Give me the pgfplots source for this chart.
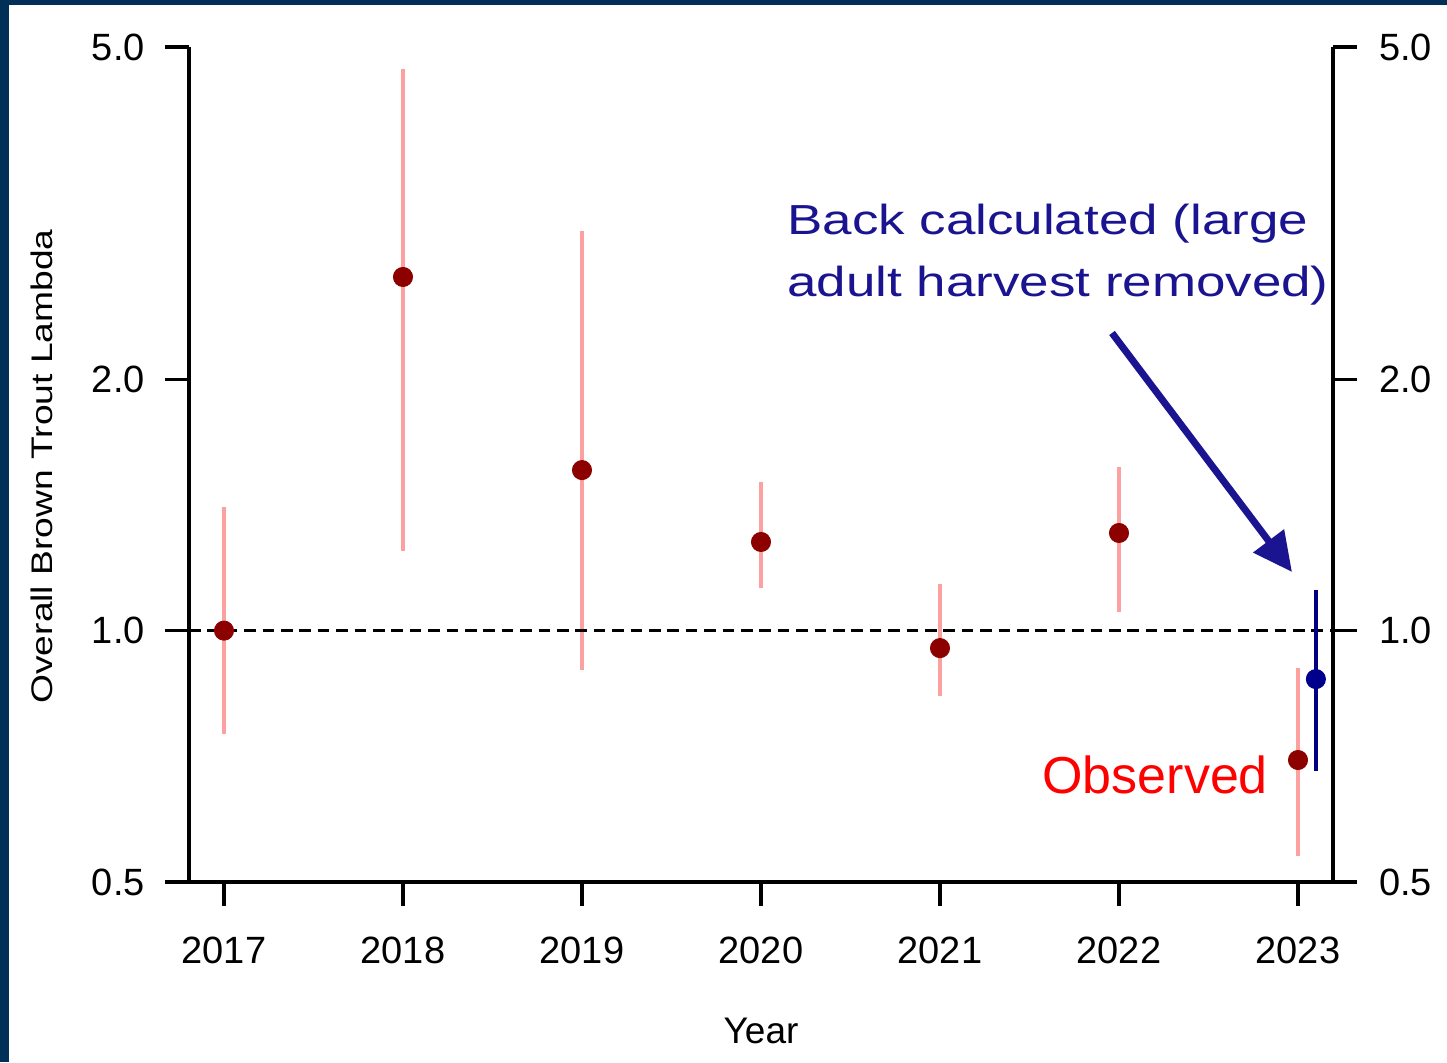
\documentclass[border=0pt]{standalone}
\usepackage{fontspec}
\setmainfont{Liberation Sans}
\usepackage{graphicx}
\usepackage{pgfplots}
\pgfplotsset{compat=1.18}
\usepackage{pgfplotstable}
\usetikzlibrary{arrows.meta}

\definecolor{frame}{RGB}{0,48,87}
\definecolor{obsdot}{RGB}{140,0,0}
\definecolor{obsbar}{RGB}{252,160,160}
\definecolor{backdot}{RGB}{0,0,140}
\definecolor{backbar}{RGB}{0,0,128}
\definecolor{note}{RGB}{26,20,144}
\definecolor{obsred}{RGB}{255,0,0}

% annual lambda estimates with 95% interval
\pgfplotstableread{
year lam   lo    hi
2017 1.000 0.753 1.406
2018 2.652 1.246 4.710
2019 1.557 0.897 3.010
2020 1.277 1.125 1.507
2021 0.953 0.835 1.137
2022 1.309 1.053 1.570
2023 0.700 0.537 0.902
}\observed

% 2023 estimate with the large adult harvest added back
\pgfplotstableread{
year   lam   lo    hi
2023.1 0.875 0.679 1.119
}\backcalc

\begin{document}
\begin{tikzpicture}
\useasboundingbox (0pt,0pt) rectangle (723.5pt,531pt);
\fill[white] (0pt,0pt) rectangle (723.5pt,531pt);
\fill[frame] (0pt,0pt) rectangle (4.5pt,531pt);
\fill[frame] (0pt,528.5pt) rectangle (723.5pt,531pt);

\begin{axis}[
  scale only axis, width=572pt, height=417.5pt,
  at={(94.5pt,90pt)}, anchor=south west,
  xmin=2016.8045, xmax=2023.1955,
  ymode=log, ymin=0.5, ymax=5,
  ytick={0.5,1,2,5}, yticklabels={0.5,1.0,2.0,5.0},
  yminorticks=false, xminorticks=false,
  tick align=outside, major tick length=12pt,
  every tick/.style={black, line width=1.6pt},
  axis line style={black, line width=1.6pt},
  ticklabel style={font=\fontsize{19}{22}\selectfont},
  clip=false,
  axis x line*=bottom, axis y line*=left,
  xtick={2017,2018,2019,2020,2021,2022,2023},
  xticklabels={2017,2018,2019,2020,2021,2022,2023},
  xticklabel style={anchor=base, inner sep=0pt, yshift=-29pt},
  yticklabel style={anchor=east, inner sep=0pt, xshift=-10pt}]

\addplot[only marks, mark=*, mark size=4.8pt, color=obsdot,
  error bars/.cd, y dir=both, y explicit, error mark=none,
  error bar style={obsbar, line width=1.6pt}]
  table[x=year, y=lam,
        y error plus expr=\thisrow{hi}-\thisrow{lam},
        y error minus expr=\thisrow{lam}-\thisrow{lo}] {\observed};

\addplot[black, line width=1.5pt, dash pattern=on 5.8pt off 3.4pt]
  coordinates {(2016.8045,1) (2023.1955,1)};

\addplot[only marks, mark=*, mark size=4.8pt, color=backdot,
  error bars/.cd, y dir=both, y explicit, error mark=none,
  error bar style={backbar, line width=1.6pt}]
  table[x=year, y=lam,
        y error plus expr=\thisrow{hi}-\thisrow{lam},
        y error minus expr=\thisrow{lam}-\thisrow{lo}] {\backcalc};
\end{axis}

% right-hand copy of the lambda scale
\begin{axis}[
  scale only axis, width=572pt, height=417.5pt,
  at={(94.5pt,90pt)}, anchor=south west,
  xmin=2016.8045, xmax=2023.1955,
  ymode=log, ymin=0.5, ymax=5,
  ytick={0.5,1,2,5}, yticklabels={0.5,1.0,2.0,5.0},
  yminorticks=false,
  tick align=outside, major tick length=12pt,
  every tick/.style={black, line width=1.6pt},
  axis line style={black, line width=1.6pt},
  ticklabel style={font=\fontsize{19}{22}\selectfont},
  clip=false,
  axis x line=none, axis y line*=right,
  xtick=\empty,
  yticklabel style={anchor=west, inner sep=0pt, xshift=11pt}]
\addplot[draw=none] coordinates {(2017,1) (2023,1)};
\end{axis}

\node[anchor=base, rotate=90, inner sep=0pt] at (26.5pt,297.75pt)
  {\scalebox{1}[0.8]{\fontsize{18.6}{22}\selectfont Overall Brown Trout Lambda}};
\node[anchor=base, inner sep=0pt] at (380.5pt,9.5pt)
  {\fontsize{18.5}{21}\selectfont Year};

\node[anchor=base west, inner sep=0pt, text=note] at (393.5pt,413.5pt)
  {\scalebox{1.26}[1]{\fontsize{21}{25}\selectfont Back calculated (large}};
\node[anchor=base west, inner sep=0pt, text=note] at (393.5pt,382.5pt)
  {\scalebox{1.26}[1]{\fontsize{21}{25}\selectfont adult harvest removed)}};
\draw[note, line width=3.5pt, -{Triangle[length=19.5pt, width=18.5pt]}]
  (556pt,364.5pt) -- (646pt,245pt);

\node[anchor=base west, inner sep=0pt, text=obsred] at (521pt,134.5pt)
  {\fontsize{26}{30}\selectfont Observed};
\end{tikzpicture}
\end{document}
